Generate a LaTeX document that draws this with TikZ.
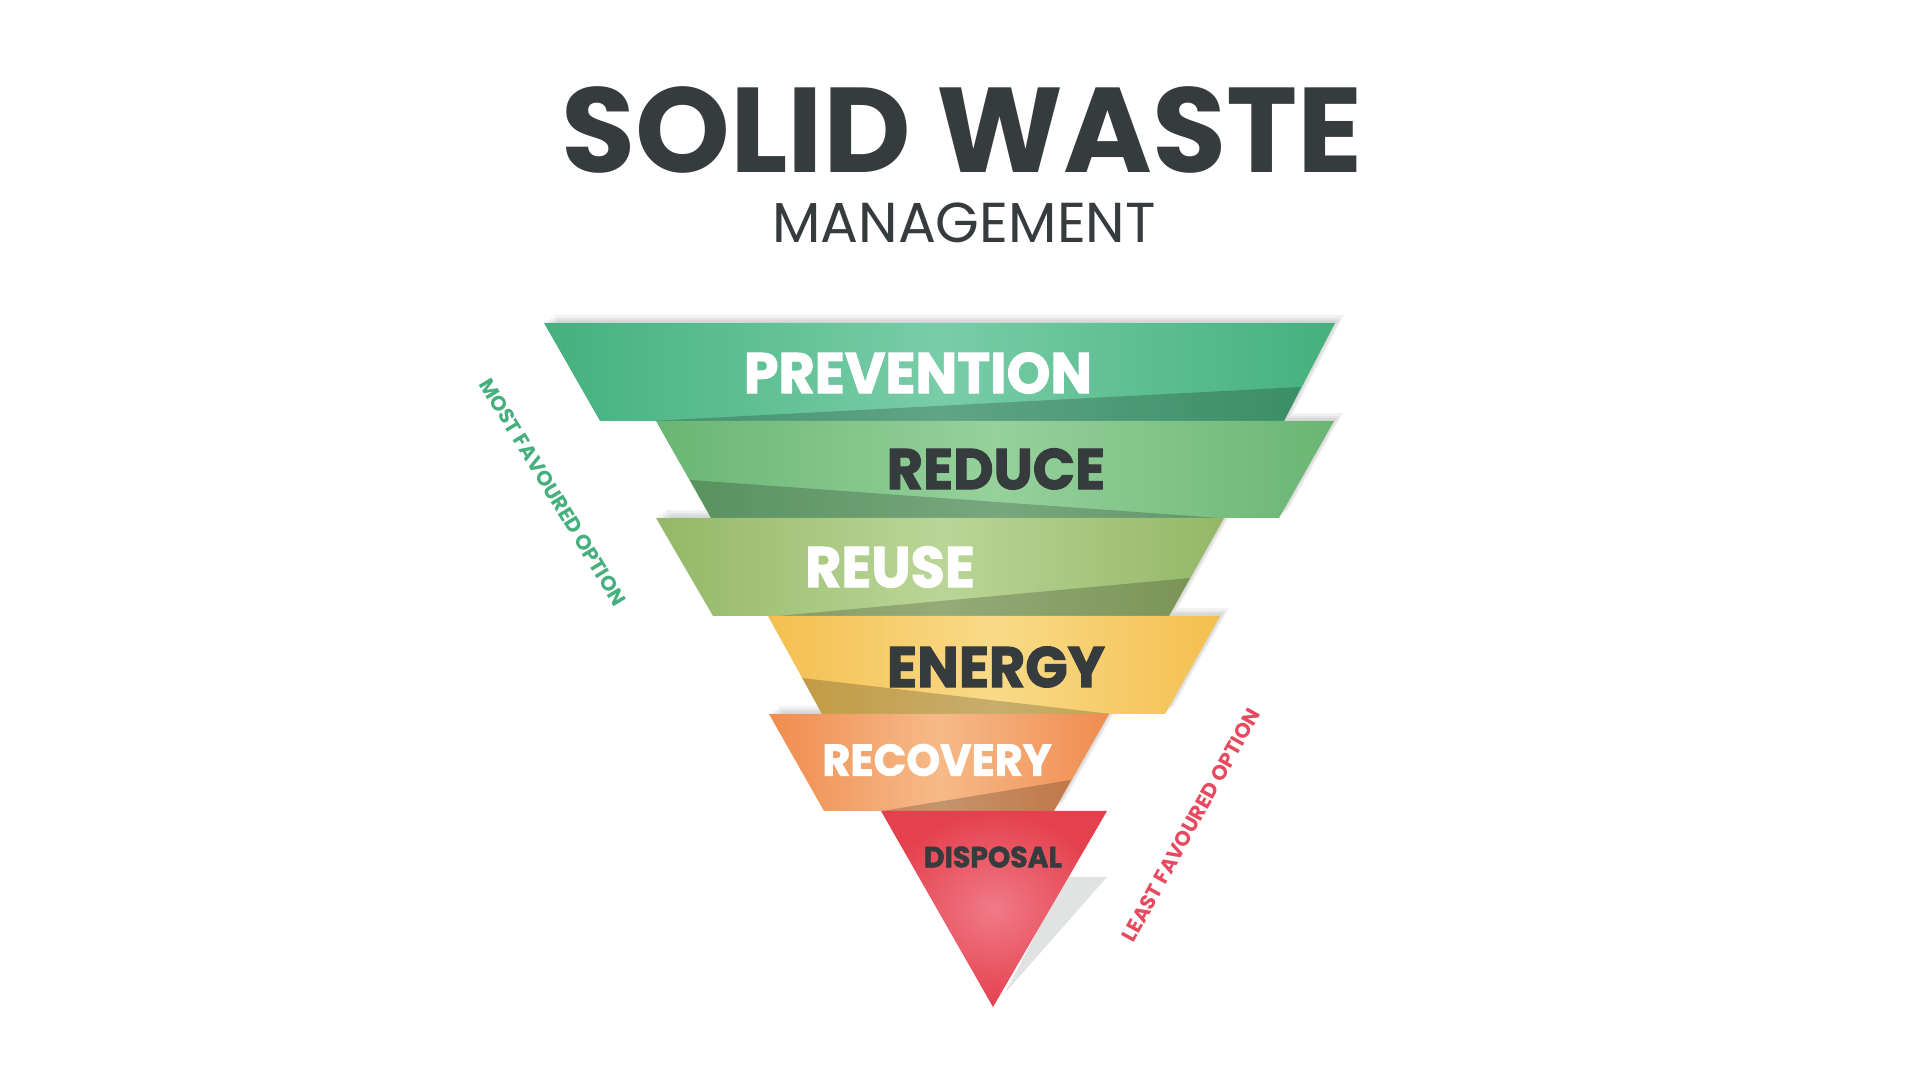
\documentclass[tikz,border=0pt]{standalone}
\usepackage{fontspec}
\setmainfont{Poppins}
\newfontfamily\heavyfont{Poppins}[BoldFeatures={FakeBold=1.8}]
\usepackage{xcolor}
\usepackage{tikz}
\usetikzlibrary{positioning,calc}

\definecolor{titlegray}{HTML}{363B3E}
\definecolor{prevbase}{HTML}{45B07E}
\definecolor{prevlight}{HTML}{78CDA8}
\definecolor{redubase}{HTML}{6AB574}
\definecolor{redulight}{HTML}{96D19C}
\definecolor{reusebase}{HTML}{94B767}
\definecolor{reuselight}{HTML}{BAD697}
\definecolor{enerbase}{HTML}{F4BF4F}
\definecolor{enerlight}{HTML}{F9DA88}
\definecolor{recbase}{HTML}{F08C4F}
\definecolor{reclight}{HTML}{F6BA88}
\definecolor{dispbase}{HTML}{E5404D}
\definecolor{displight}{HTML}{F07A88}
\definecolor{mostgreen}{HTML}{45B07E}
\definecolor{leastred}{HTML}{E8495E}
\definecolor{shadowgray}{HTML}{E1E3E3}

\tikzset{
  band/.style 2 args={left color=#1, right color=#1, middle color=#2},
  wedge/.style={fill=black, fill opacity=0.2},
  softshadow/.style={fill=black, fill opacity=0.05},
  bandtext/.style={font=\heavyfont\bfseries\fontsize{16.3}{16.3}\selectfont, inner sep=0pt, xscale=0.97},
  sidetext/.style={font=\bfseries\fontsize{5.9}{5.9}\selectfont, inner sep=0pt}
}

\begin{document}
\begin{tikzpicture}[x=0.01cm, y=-0.01cm]
    \useasboundingbox[fill=white] (0,0) rectangle (1920,1080);

    % Title
    \node[font=\bfseries\fontsize{34.3}{34.3}\selectfont, text=titlegray, inner sep=0pt] (title) at (962,130) {SOLID WASTE};
    \node[font=\fontsize{16}{16}\selectfont, text=titlegray, inner sep=0pt] (subtitle) at (964,223) {MANAGEMENT};

    % Soft shadow behind each band
    \foreach \sx/\sy in {3/-3, 6/-5, 9/-8} {
        \begin{scope}[shift={(\sx,\sy)}]
            \fill[softshadow] (544,323) -- (1335,323) -- (1284,421) -- (600,421) -- cycle;
            \fill[softshadow] (656,421) -- (1334,421) -- (1279,518) -- (711,518) -- cycle;
            \fill[softshadow] (656,518) -- (1224,518) -- (1169,616) -- (713,616) -- cycle;
            \fill[softshadow] (768,616) -- (1220,616) -- (1165,714) -- (822,714) -- cycle;
            \fill[softshadow] (769,714) -- (1109,714) -- (1054,811) -- (824,811) -- cycle;
        \end{scope}
    }

    % Prevention
    \shade[band={prevbase}{prevlight}] (544,323) -- (1335,323) -- (1284,421) -- (600,421) -- cycle;
    \fill[wedge] (1301,387) -- (1284,421) -- (650,421) -- cycle;
    \node[bandtext, text=white] (prevention) at (918,373) {PREVENTION};

    % Reduce
    \shade[band={redubase}{redulight}] (656,421) -- (1334,421) -- (1279,518) -- (711,518) -- cycle;
    \fill[wedge] (690,480) -- (1220,518) -- (711,518) -- cycle;
    \node[bandtext, text=titlegray] (reduce) at (996,469) {REDUCE};

    % Reuse
    \shade[band={reusebase}{reuselight}] (656,518) -- (1224,518) -- (1169,616) -- (713,616) -- cycle;
    \fill[wedge] (1190,578) -- (1169,616) -- (778,616) -- cycle;
    \node[bandtext, text=white] (reuse) at (890,567) {REUSE};

    % Energy
    \shade[band={enerbase}{enerlight}] (768,616) -- (1220,616) -- (1165,714) -- (822,714) -- cycle;
    \fill[wedge] (802,678) -- (1111,714) -- (822,714) -- cycle;
    \node[bandtext, text=titlegray] (energy) at (996,667) {ENERGY};

    % Recovery
    \shade[band={recbase}{reclight}] (769,714) -- (1109,714) -- (1054,811) -- (824,811) -- cycle;
    \fill[wedge] (1071,780) -- (1054,811) -- (882,811) -- cycle;
    \node[bandtext, text=white, font=\heavyfont\bfseries\fontsize{12.6}{12.6}\selectfont] (recovery) at (937,760) {RECOVERY};

    % Disposal
    \fill[shadowgray] (1066,877) -- (1107,877) -- (1005,993) -- cycle;
    \shade[inner color=displight, outer color=dispbase] (881,811) -- (1107,811) -- (993,1007) -- cycle;
    \node[bandtext, text=titlegray, font=\heavyfont\bfseries\fontsize{8.3}{8.3}\selectfont] (disposal) at (993,857) {DISPOSAL};

    % Side notes
    \node[sidetext, text=mostgreen, rotate=-58.7] (most) at (553,492) {MOST FAVOURED OPTION};
    \node[sidetext, text=leastred, rotate=61] (least) at (1191,825) {LEAST FAVOURED OPTION};
\end{tikzpicture}
\end{document}
